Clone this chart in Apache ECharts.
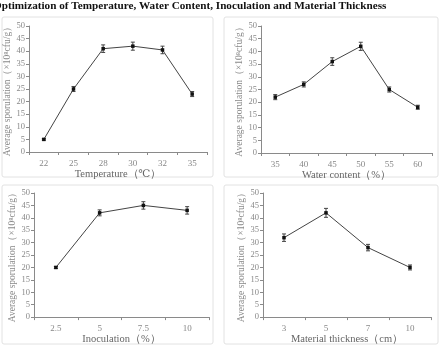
<!DOCTYPE html>
<html>
<head>
<meta charset="utf-8">
<script src="https://cdn.jsdelivr.net/npm/echarts@6/dist/echarts.min.js"></script>
<style>
  html, body { margin: 0; padding: 0; background: #fff; }
  #chart { width: 440px; height: 346px; }
</style>
</head>
<body>
<div id="chart"></div>
<script>
const titleText = 'Optimization of Temperature, Water Content, Inoculation and Material Thickness';
const yName = 'Average sporulation（×10⁸cfu/g）';

const tempCats = ['22', '25', '28', '30', '32', '35'];
const tempValues = [5, 25, 41, 42, 40.5, 23];
const tempErrors = [0.3, 1, 1.5, 1.6, 1.5, 1];

const waterCats = ['35', '40', '45', '50', '55', '60'];
const waterValues = [22, 27, 36, 42, 25, 18];
const waterErrors = [1, 1, 1.5, 1.6, 1, 0.8];

const inocCats = ['2.5', '5', '7.5', '10'];
const inocValues = [20, 42, 45, 43];
const inocErrors = [0.4, 1.2, 1.5, 1.5];

const thickCats = ['3', '5', '7', '10'];
const thickValues = [32, 42, 28, 20];
const thickErrors = [1.5, 1.8, 1.3, 1];

const panels = [
    { cats: tempCats, values: tempValues, errors: tempErrors, xName: 'Temperature（℃）',
      grid: { left: 29, right: 233, top: 26, bottom: 194 } },
    { cats: waterCats, values: waterValues, errors: waterErrors, xName: 'Water content（%）',
      grid: { left: 261, right: 8, top: 26, bottom: 193 } },
    { cats: inocCats, values: inocValues, errors: inocErrors, xName: 'Inoculation（%）',
      grid: { left: 34, right: 231, top: 193, bottom: 27 } },
    { cats: thickCats, values: thickValues, errors: thickErrors, xName: 'Material thickness（cm）',
      grid: { left: 263, right: 9, top: 193, bottom: 26 } },
];

const axisGray = '#8a8a8a';
const labelGray = '#888';
const serif = '"Liberation Serif", "DejaVu Serif", serif';

const chart = echarts.init(document.getElementById('chart'), null, { renderer: 'canvas' });

const errorBar = (params, api) => {
    const x = api.value(0);
    const hi = api.coord([x, api.value(1) + api.value(3)]);
    const lo = api.coord([x, api.value(1) - api.value(3)]);
    const style = { stroke: '#444', lineWidth: 1 };
    const cap = 2;
    return {
        type: 'group',
        children: [
            { type: 'line', shape: { x1: hi[0], y1: hi[1], x2: lo[0], y2: lo[1] }, style },
            { type: 'line', shape: { x1: hi[0] - cap, y1: hi[1], x2: hi[0] + cap, y2: hi[1] }, style },
            { type: 'line', shape: { x1: lo[0] - cap, y1: lo[1], x2: lo[0] + cap, y2: lo[1] }, style },
        ],
    };
};

const boxes = [
    { x: 2, y: 17, width: 211, height: 160 },
    { x: 224, y: 17, width: 214, height: 160 },
    { x: 2, y: 185, width: 211, height: 159 },
    { x: 224, y: 185, width: 214, height: 159 },
];

chart.setOption({
    backgroundColor: '#fff',
    animation: false,
    graphic: [
        ...boxes.map((b) => ({
            type: 'rect', shape: { ...b, r: 2 }, silent: true, z: -1,
            style: { fill: '#fff', stroke: '#e2e2e2', lineWidth: 1 },
        })),
        {
            type: 'text', left: -7, top: 1,
            style: { text: titleText, font: `bold 11.2px ${serif}`, fill: '#111' },
        },
    ],
    grid: panels.map((p) => p.grid),
    xAxis: panels.map((p, i) => ({
        type: 'category',
        gridIndex: i,
        data: p.cats,
        boundaryGap: true,
        name: p.xName,
        nameLocation: 'middle',
        nameGap: 12,
        nameTextStyle: { color: '#666', fontSize: 10.5, fontFamily: serif },
        axisLine: { lineStyle: { color: axisGray } },
        axisTick: { show: true, length: 3, lineStyle: { color: axisGray } },
        axisLabel: { color: labelGray, fontSize: 9, fontFamily: serif, margin: 7 },
        splitLine: { show: false },
    })),
    yAxis: panels.map((p, i) => ({
        type: 'value',
        gridIndex: i,
        min: 0,
        max: 50,
        interval: 5,
        name: yName,
        nameLocation: 'middle',
        nameGap: 14,
        nameTextStyle: { color: labelGray, fontSize: 9.5, fontFamily: serif },
        axisLine: { show: true, lineStyle: { color: axisGray } },
        axisTick: { show: true, length: 3, lineStyle: { color: axisGray } },
        axisLabel: { color: labelGray, fontSize: 8.5, fontFamily: serif, margin: 4 },
        splitLine: { show: false },
    })),
    series: panels.flatMap((p, i) => [
        {
            type: 'line',
            xAxisIndex: i,
            yAxisIndex: i,
            data: p.values,
            symbol: 'rect',
            symbolSize: 3.5,
            itemStyle: { color: '#111' },
            lineStyle: { color: '#444', width: 1 },
        },
        {
            type: 'custom',
            xAxisIndex: i,
            yAxisIndex: i,
            renderItem: errorBar,
            encode: { x: 0, y: 1 },
            data: p.values.map((v, j) => [j, v, 0, p.errors[j]]),
            z: 3,
        },
    ]),
});
</script>
</body>
</html>
